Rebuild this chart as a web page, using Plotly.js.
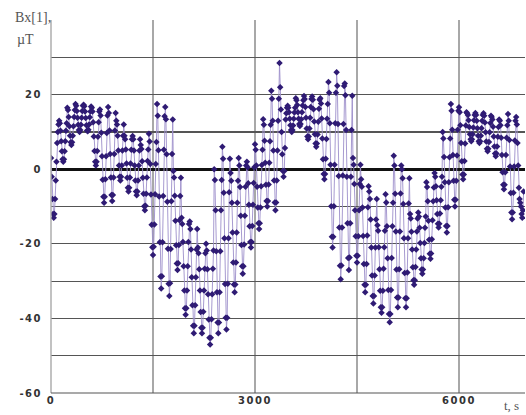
<!DOCTYPE html>
<html>
<head>
<meta charset="utf-8">
<script src="https://cdn.plot.ly/plotly-3.0.1.min.js"></script>
<style>
html,body{margin:0;padding:0;background:#fff;}
#chart{width:526px;height:415px;}
.xtick text,.ytick text{letter-spacing:1.5px;}
</style>
</head>
<body>
<div id="chart"></div>
<script>
// sampling: t0 = 0 s, step = 10 s
var t0 = 0;
var dt = 10;
var bx = [
 3,-2,-8,-12,-13,-12,-8,-3,2,7,10,12,
 13,12.3,10.3,7.5,4.8,2.7,2,2.7,4.8,7.5,10.3,12.3,
 16.5,15.9,14,11.5,9,7.2,6.5,7.2,9,11.5,14,15.9,
 17.5,17,15.6,13.8,11.9,10.5,10,10.5,11.9,13.8,15.6,17,
 17.3,16.9,15.5,13.7,11.8,10.4,10.2,10.6,12,13.9,15.5,16.8,
 16.5,15.5,12.6,8.8,4.9,2,1,2,4.9,8.7,12.6,15.5,
 16,14.4,9.8,3.5,-2.8,-7.4,-9,-7.4,-2.7,3.5,9.7,14.4,
 16.7,15.1,10.4,4.1,-2.2,-6.9,-8.5,-6.9,-2.2,4.1,10.4,15.1,
 13,12,9,5,1,-2,-3,-2,1,5,9,12,
 9,8,5.3,1.5,-2.3,-5,-6,-5,-2.2,1.5,5.2,8,
 8.9,8,5,1,-3,-6,-7,-6,-3,1,5,8,
 6.5,5.4,2.1,-2.3,-6.6,-9.9,-11,-9.8,-6.6,-2.2,2.2,5.3,
 9.5,7.4,1.4,-6.8,-14.9,-20.9,-23,-20.8,-14.8,-6.7,1.4,7.3,
 17.5,14.3,5.1,-7.3,-19.6,-28.8,-32,-28.7,-19.6,-7.2,5.2,14.2,
 16.7,13.4,4,-8.7,-21.3,-30.7,-34,-30.6,-21.4,-8.6,4.1,13.3,
 -0.5,-2.2,-7.1,-13.8,-20.4,-25.3,-27,-25.2,-20.3,-13.7,-7.2,-2.3,
 -13,-14.7,-19.5,-26,-32.5,-37.3,-39,-37.3,-32.5,-26,-19.5,-14.7,
 -14,-16,-21.5,-29,-36.5,-42,-44,-42,-36.5,-29,-21.5,-16,
 -21,-22.5,-26.8,-32.5,-38.3,-42.5,-44,-42.5,-38.2,-32.5,-26.7,-22.5,
 -20,-21.8,-26.8,-33.5,-40.3,-45.2,-47,-45.2,-40.2,-33.5,-26.7,-21.8,
 0,-2.9,-11,-22,-33,-41.1,-44,-41.1,-33,-22,-11,-2.9,
 6,2.8,-6.3,-18.5,-30.8,-39.8,-43,-39.8,-30.7,-18.5,-6.2,2.8,
 -1,-3.1,-9,-17,-25,-30.9,-33,-30.9,-25,-17,-9,-3.1,
 3,1,-4.8,-12.5,-20.3,-26,-28,-26,-20.2,-12.5,-4.7,1,
 2,0.5,-3.8,-9.5,-15.3,-19.5,-21,-19.5,-15.2,-9.5,-3.7,0.5,
 6.7,5.2,1,-4.7,-10.3,-14.5,-16,-14.5,-10.3,-4.6,1.1,5.2,
 13.4,11.9,7.6,1.7,-4.2,-8.5,-10,-8.5,-4.1,1.7,7.5,11.9,
 21,18.9,13,5,-3,-8.9,-11,-8.9,-3,5,13,18.9,
 28.5,22,16,10,4,-0.5,-2,-0.5,5.7,13.3,15,16.5,
 17,16.5,15.3,13.5,11.8,10.5,10,10.5,11.7,13.5,15.2,16.5,
 19,18.5,17.2,15.3,13.5,12.1,11.6,12.1,13.4,15.3,17.1,18.5,
 19.6,18.8,16.7,13.8,10.9,8.8,8,8.8,10.9,13.8,16.7,18.8,
 19.5,18.6,16.1,12.8,9.4,6.9,6,6.9,9.3,12.7,16.2,18.6,
 19,17.6,13.6,8.2,2.7,-1.3,-2.7,-1.3,2.8,8.1,13.5,17.5,
 23.4,20.5,12.3,1.2,-9.9,-18.1,-21,-18.1,-9.9,1.2,12.3,20.5,
 26,22.4,12.1,-1.8,-15.6,-25.9,-29.5,-25.8,-15.6,-1.7,12.1,22.3,
 23,19.8,10.5,-2,-14.5,-23.8,-27,-23.7,-14.5,-2,10.5,19.7,
 3,1.2,-4,-11,-18,-23.2,-25,-23.2,-18,-11,-4,1.2,
 -2.7,-4.7,-10.3,-17.9,-25.4,-31,-33,-31,-25.4,-17.8,-10.2,-4.6,
 -6,-8,-13.5,-21,-28.5,-34,-36,-34,-28.5,-21,-13.5,-8,
 -15,-16.5,-20.9,-26.8,-32.6,-37,-38.5,-37,-32.6,-26.7,-20.9,-16.5,
 -6.7,-8.9,-15.3,-23.9,-32.4,-38.8,-41,-38.8,-32.4,-23.8,-15.3,-9,
 3.6,1,-6.6,-16.7,-26.9,-34.4,-37,-34.4,-26.8,-16.7,-6.5,1,
 0,-2.4,-9.3,-18.5,-27.8,-34.6,-37,-34.6,-27.7,-18.5,-9.2,-2.4,
 -12,-13.2,-16.8,-21.5,-26.3,-29.8,-31,-29.8,-26.2,-21.5,-16.7,-13.2,
 -11.6,-12.7,-15.7,-19.8,-23.9,-26.9,-28,-26.9,-23.9,-19.8,-15.7,-12.7,
 -3.5,-4.8,-8.6,-13.8,-18.9,-22.7,-24,-22.6,-18.8,-13.7,-8.6,-4.9,
 -1,-2,-4.6,-8.3,-12,-14.6,-15.6,-14.6,-11.9,-8.3,-4.7,-2,
 10,8.2,3.3,-3.5,-10.3,-15.2,-17,-15.2,-10.2,-3.5,3.2,8.2,
 17.5,15.7,10.6,3.8,-3.1,-8.2,-10,-8.2,-3.1,3.7,10.6,15.7,
 16.6,15.3,11.8,7,2.1,-1.4,-2.7,-1.4,2.2,6.9,11.7,15.3,
 15,14.5,13.1,11.3,9.4,8,7.5,8,9.4,11.2,13.1,14.5,
 15.1,14.5,13,11,9,7.5,7,7.5,9,11,13,14.5,
 15,14.3,12.5,9.9,7.4,5.5,4.8,5.5,7.3,9.9,12.4,14.3,
 14,13.3,11.4,8.8,6.1,4.2,3.5,4.2,6.1,8.7,11.3,13.3,
 13,11.8,8.4,3.8,-0.8,-4.2,-5.4,-4.2,-0.8,3.8,8.4,11.8,
 14.8,13,7.8,0.7,-6.4,-11.6,-13.4,-11.6,-6.3,0.7,7.7,13,
 14,12,7,1,-5,-8,-9,-10,-12,-13,-11,-6
];
var xTickVals = [0,1500,3000,4500,6000];
var xTickText = ['0','','3000','','6000'];
var yTickVals = [-60,-50,-40,-30,-20,-10,0,10,20,30];
var yTickText = ['-60','','-40','','-20','','0','','20',''];
var yTitle1 = 'Bx[1],';
var yTitle2 = '\u00b5T';
var xTitle = 't, s';

var trace = {
  type:'scatter', mode:'lines+markers',
  x0:t0, dx:dt, y:bx,
  line:{color:'#9d8fcb', width:0.9},
  marker:{symbol:'diamond', size:5, color:'#2f1b74'},
  hoverinfo:'skip'
};
var serif = 'Liberation Serif, Times New Roman, serif';
var layout = {
  width:526, height:415,
  margin:{l:51, r:1, t:20, b:22},
  paper_bgcolor:'#fff', plot_bgcolor:'#fff',
  showlegend:false,
  xaxis:{range:[0,6970], tickvals:xTickVals, ticktext:xTickText,
    showgrid:true, gridcolor:'#a8a8a8', gridwidth:1.4,
    zeroline:false, showline:false, ticks:'',
    tickfont:{family:'DejaVu Sans', size:10, color:'#333', weight:'bold'}},
  yaxis:{range:[-60,40], tickvals:yTickVals, ticktext:yTickText,
    showgrid:true, gridcolor:'#555', gridwidth:1.2,
    zeroline:true, zerolinecolor:'#111', zerolinewidth:3,
    showline:false, ticks:'', ticklabelstandoff:8,
    tickfont:{family:'DejaVu Sans', size:10, color:'#333', weight:'bold'}},
  shapes:[
    {type:'line', xref:'paper', yref:'paper', x0:0, x1:0, y0:0, y1:1, line:{color:'#a8a8a8', width:1.4}},
    {type:'line', xref:'paper', yref:'paper', x0:0, x1:1, y0:0, y1:0, line:{color:'#555', width:1.2}}
  ],
  annotations:[
    {xref:'paper', yref:'paper', x:0, y:1, xanchor:'right', yanchor:'bottom', xshift:2, yshift:-7, showarrow:false,
     text:yTitle1, font:{family:serif, size:14, color:'#555'}},
    {xref:'paper', yref:'paper', x:0, y:1, xanchor:'right', yanchor:'top', xshift:-15, yshift:-10, showarrow:false,
     text:yTitle2, font:{family:serif, size:14, color:'#555'}},
    {xref:'paper', yref:'paper', x:1, y:0, xanchor:'right', yanchor:'top', xshift:-4, yshift:-3, showarrow:false,
     text:xTitle, font:{family:serif, size:13, color:'#555'}}
  ]
};
Plotly.newPlot('chart',[trace],layout,{staticPlot:true, displayModeBar:false});
</script>
</body>
</html>
